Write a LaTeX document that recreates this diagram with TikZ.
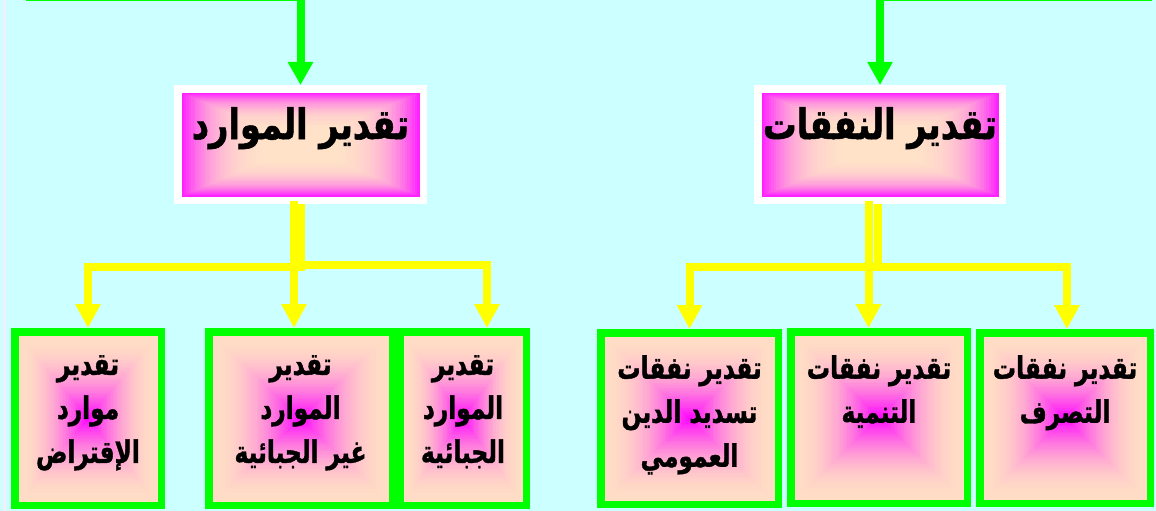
\documentclass[tikz,border=0pt]{standalone}
\usepackage{fontspec}
\usetikzlibrary{arrows.meta,calc}
\newfontfamily\arabicfont[Script=Arabic,FakeStretch=0.8,FakeBold=1.2]{DejaVu Sans}
\newfontfamily\arabicfontn[Script=Arabic,FakeStretch=0.75,FakeBold=1.2]{DejaVu Sans}
\TeXXeTstate=1
\definecolor{bgc}{HTML}{CCFFFF}
\definecolor{gr}{HTML}{00FF00}
\definecolor{ye}{HTML}{FFFF00}
\definecolor{mag}{HTML}{FF22FF}
\definecolor{magc}{HTML}{FF00FF}
\definecolor{peach}{HTML}{FFE2C8}
\definecolor{peachb}{HTML}{FFDEC4}
\definecolor{stripc}{HTML}{F2F0FF}
% #1 node, #2 edge colour, #3 centre colour, #4 percent of edge colour as a function of \gf (1 = edge, 0 = centre)
\newcommand{\gradfill}[4]{%
  \foreach \gi in {0,...,48}{%
    \pgfmathsetmacro\gf{1-\gi/48}%
    \pgfmathtruncatemacro\gp{#4}%
    \fill[#2!\gp!#3] ($(#1.center)!\gf!([shift={(7.5pt,-7.5pt)}]#1.north west)$) rectangle ($(#1.center)!\gf!([shift={(-7.5pt,7.5pt)}]#1.south east)$);
  }%
}
\begin{document}
\begin{tikzpicture}[x=1pt,y=-1pt,
  topbox/.style={draw=white, line width=7.5pt, inner sep=0pt, minimum height=111.5pt},
  subbox/.style={draw=gr, line width=7.5pt, inner sep=0pt},
  toptxt/.style={font=\arabicfont\bfseries\fontsize{42}{48}\selectfont, inner sep=0pt, anchor=base},
  subtxt/.style={font=\arabicfontn\bfseries\fontsize{31}{44}\selectfont, align=center, inner sep=0pt, anchor=north},
  garrow/.style={draw=gr, line width=8pt, -{Triangle[width=24pt,length=23pt]}},
  yarrow/.style={draw=ye, line width=8pt, -{Triangle[width=24pt,length=24pt]}}]
\useasboundingbox (0,0) rectangle (1156,511);
\fill[bgc] (0,0) rectangle (1156,511);
\fill[stripc] (3,0) rectangle (6,511);
% boxes
\node[topbox, minimum width=245.5pt] (topL) at (300.5,144.5) {};
\node[topbox, minimum width=244.5pt] (topR) at (880,144.5) {};
\node[subbox, minimum width=146.5pt, minimum height=173.5pt] (boxA) at (88,418.5) {};
\node[subbox, minimum width=183.5pt, minimum height=173.5pt] (boxB) at (300.5,418.5) {};
\node[subbox, minimum width=126.5pt, minimum height=173.5pt] (boxC) at (463,418.5) {};
\node[subbox, minimum width=177.5pt, minimum height=171.5pt] (boxD) at (689.5,418.5) {};
\node[subbox, minimum width=176.5pt, minimum height=171.5pt] (boxE) at (879,417.5) {};
\node[subbox, minimum width=170.5pt, minimum height=170.5pt] (boxF) at (1065,418) {};
% gradients
\gradfill{topL}{mag}{peach}{100*(\gf)^4}
\gradfill{topR}{mag}{peach}{100*(\gf)^4}
\gradfill{boxA}{peachb}{magc}{100*(1-(1-\gf)^2)}
\gradfill{boxB}{peachb}{magc}{100*(1-(1-\gf)^2)}
\gradfill{boxC}{peachb}{magc}{100*(1-(1-\gf)^2)}
\gradfill{boxD}{peachb}{magc}{100*(1-(1-\gf)^2)}
\gradfill{boxE}{peachb}{magc}{100*(1-(1-\gf)^2)}
\gradfill{boxF}{peachb}{magc}{100*(1-(1-\gf)^2)}
% texts
\node[toptxt] (tLt) at (300.5,139) {\beginR تقدير الموارد\endR};
\node[toptxt] (tRt) at (880,139) {\beginR تقدير النفقات\endR};
\node[subtxt] (aT) at (88,355) {\beginR تقدير\endR\\\beginR موارد\endR\\\beginR الإقتراض\endR};
\node[subtxt] (bT) at (300.5,355) {\beginR تقدير\endR\\\beginR الموارد\endR\\\beginR غير الجبائية\endR};
\node[subtxt] (cT) at (463,355) {\beginR تقدير\endR\\\beginR الموارد\endR\\\beginR الجبائية\endR};
\node[subtxt] (dT) at (689.5,355) {\beginR تقدير نفقات\endR\\\beginR تسديد الدين\endR\\\beginR العمومي\endR};
\node[subtxt] (eT) at (879,355) {\beginR تقدير نفقات\endR\\\beginR التنمية\endR};
\node[subtxt] (fT) at (1065,355) {\beginR تقدير نفقات\endR\\\beginR التصرف\endR};
% green connectors
\coordinate (gL) at (26,-2.5);
\coordinate (gR) at (1152,-2.5);
\draw[garrow] (gL) -| (topL.north);
\draw[garrow] (gR) -| (topR.north);
% yellow connectors
\coordinate (yl1) at (0,266.5);
\coordinate (yl2) at (0,264.5);
\coordinate (yl3) at (0,267);
\draw[yarrow] ([xshift=-6.5pt,yshift=3pt]topL.south) -- ([xshift=-6.5pt]boxB.north);
\draw[yarrow] (topL.south) -- (topL.south |- yl1) -| (boxA.north);
\draw[yarrow] (topL.south) -- (topL.south |- yl2) -| ([xshift=24pt]boxC.north);
\draw[yarrow] ([xshift=-11.5pt,yshift=3pt]topR.south) -- ([xshift=-10.5pt]boxE.north);
\draw[yarrow] ([xshift=-2pt]topR.south) -- ([xshift=-2pt]topR.south |- yl3) -| (boxD.north);
\draw[yarrow] ([xshift=-2pt]topR.south) -- ([xshift=-2pt]topR.south |- yl3) -| ([xshift=2pt]boxF.north);
\end{tikzpicture}
\end{document}
